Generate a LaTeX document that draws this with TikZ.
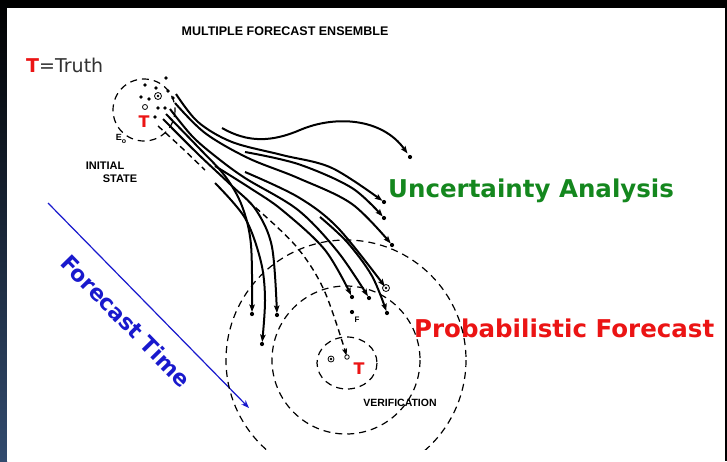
\documentclass[tikz,border=0pt]{standalone}
\usepackage{fontspec}
\setmainfont{DejaVu Sans}
\newfontfamily\lab{Liberation Sans}
\usetikzlibrary{arrows.meta}
\definecolor{tred}{RGB}{235,20,20}
\definecolor{tgreen}{RGB}{20,135,30}
\definecolor{tblue}{RGB}{25,25,205}
\definecolor{tgray}{RGB}{50,50,50}
\definecolor{edge}{RGB}{50,75,110}
\begin{document}
\begin{tikzpicture}[x=1pt,y=-1pt,
 traj/.style={line width=2pt, -{Stealth[length=7.5pt,width=5.5pt,inset=1.5pt]}, shorten >=2pt},
 dtraj/.style={line width=1.4pt, dash pattern=on 6pt off 4pt, -{Stealth[length=7pt,width=5pt,inset=1.5pt]}, shorten >=1.5pt},
 dline/.style={line width=1.4pt, dash pattern=on 6pt off 4pt},
 dsh/.style={line width=1.2pt, dash pattern=on 7pt off 5pt},
 dot/.style={circle, fill=black, inner sep=0pt, minimum size=4.2pt},
 odot/.style={circle, draw=black, line width=0.8pt, inner sep=0pt, minimum size=5pt},
 cdot/.style={circle, draw=black, line width=0.8pt, fill=white, inner sep=0pt, minimum size=7pt, path picture={\fill[black] (path picture bounding box.center) circle (1.3pt);}},
 lbl/.style={font=\lab\bfseries\fontsize{11}{12}\selectfont, inner sep=0pt},
 big/.style={inner sep=0pt, anchor=base west}]
\useasboundingbox (0,0) rectangle (727,461);
% frame
\fill[black] (0,0) rectangle (727,461);
\shade[top color=black, bottom color=edge] (0,0) rectangle (7,461);
\fill[white] (7,8) rectangle (725,461);

% texts
\node[font=\lab\bfseries\fontsize{12.5}{14}\selectfont, inner sep=0pt] (title) at (285,31) {MULTIPLE FORECAST ENSEMBLE};
\node[big, font=\fontsize{19}{22}\selectfont, text=tgray] (truth) at (26,72) {\textcolor{tred}{\textbf{T}}=Truth};
\node[big, font=\bfseries\fontsize{24.5}{28}\selectfont, text=tgreen] (ua) at (388,197) {Uncertainty Analysis};
\node[big, font=\bfseries\fontsize{24.5}{28}\selectfont, text=tred] (pf) at (414,337) {Probabilistic Forecast};
\node[rotate=-45.6, font=\bfseries\fontsize{22}{26}\selectfont, text=tblue, inner sep=0pt] (ft) at (126,321) {Forecast Time};
\node[lbl] (ini) at (105,166) {INITIAL};
\node[lbl] (sta) at (120,179) {STATE};
\node[lbl, font=\lab\bfseries\fontsize{10.5}{12}\selectfont] (ver) at (400,403) {VERIFICATION};
\node[font=\lab\bfseries\fontsize{9}{10}\selectfont, inner sep=0pt] (e0) at (121,139) {E\raisebox{-2.5pt}{\fontsize{7}{8}\selectfont o}};

% forecast time arrow
\coordinate (fa) at (48,203);
\coordinate (fb) at (249,408);
\draw[tblue, line width=1.2pt, -{Stealth[length=8pt,width=6pt]}] (fa) -- (fb);

% initial state circle
\coordinate (ic) at (144,110);
\draw[dsh] (ic) circle [radius=31];
\node[font=\bfseries\fontsize{16}{18}\selectfont, text=tred, inner sep=0pt] (t0) at (144,122) {T};
\node[odot] (o0) at (145,107) {};
\node[cdot] (c0) at (158,96) {};
\foreach \p in {(166,78),(145,85),(156,88),(141,97),(149,99),(168,91),(173,98),(158,108),(155,117),(165,108)} \fill \p circle (1.9pt);

% verification circles
\coordinate (vc) at (346,360);
\draw[dsh] (347,363) ellipse [x radius=30, y radius=26];
\draw[dsh] (vc) circle [radius=74];
\begin{scope}
\clip (0,0) rectangle (727,449);
\draw[dsh] (vc) circle [radius=120];
\end{scope}
\node[font=\bfseries\fontsize{16}{18}\selectfont, text=tred, inner sep=0pt] (t1) at (359,369) {T};
\node[cdot, minimum size=6pt] (at) at (331,359) {};
\node[odot, minimum size=4.5pt] (v1) at (347,357) {};

% endpoint dots
\node[dot] (d1) at (410,157) {};
\node[dot] (d2) at (384,202) {};
\node[dot] (d3) at (384,218) {};
\node[dot] (d4) at (392,245) {};
\node[cdot] (d5) at (386,288) {};
\node[dot] (d6) at (387,313) {};
\node[dot] (d7) at (369,298) {};
\node[dot] (d8) at (352,297) {};
\node[dot] (d9) at (352,312) {};
\node[font=\lab\bfseries\fontsize{8}{9}\selectfont, inner sep=0pt] (f) at (357,320) {F};
\node[dot] (d10) at (252,314) {};
\node[dot] (d11) at (277,315) {};
\node[dot] (d12) at (262,344) {};

% start coordinates
\coordinate (s2) at (176,94);
\coordinate (s4) at (175,103);
\coordinate (s7) at (170,109);
\coordinate (s10) at (166,114);
\coordinate (s11) at (163,119);
\coordinate (sd) at (158,126);
\coordinate (sd2) at (248,201);
\coordinate (ed) at (205,170);
\coordinate (g1) at (222,128);
\coordinate (g3) at (245,152);
\coordinate (g5) at (245,172);
\coordinate (g6) at (320,217);
\coordinate (g8) at (215,166);
\coordinate (g12) at (215,183);

% trajectories
\draw[traj] (g1) .. controls (248,143) and (272,142) .. (300,130) .. controls (335,115) and (382,118) .. (d1);
\draw[traj] plot[smooth, tension=0.55] coordinates {(s2) (198,122) (232,142) (282,155) (332,168) (d2)};
\draw[traj] plot[smooth, tension=0.55] coordinates {(g3) (298,164) (352,188) (d3)};
\draw[traj] plot[smooth, tension=0.55] coordinates {(s4) (205,133) (248,158) (298,178) (352,204) (d4)};
\draw[traj] plot[smooth, tension=0.55] coordinates {(g5) (298,197) (338,228) (d5)};
\draw[traj] plot[smooth, tension=0.55] coordinates {(g6) (347,242) (372,276) (d6)};
\draw[traj] plot[smooth, tension=0.55] coordinates {(s7) (192,136) (215,156) (245,178) (298,210) (338,252) (d7)};
\draw[traj] plot[smooth, tension=0.55] coordinates {(g8) (250,188) (282,210) (325,250) (d8)};
\draw[traj] plot[smooth, tension=0.55] coordinates {(s10) (198,147) (225,176) (242,206) (251,245) (d10)};
\draw[traj] plot[smooth, tension=0.55] coordinates {(s11) (198,154) (232,186) (256,210) (272,247) (d11)};
\draw[traj] plot[smooth, tension=0.55] coordinates {(g12) (245,218) (261,262) (265,300) (d12)};
\draw[dline] plot[smooth, tension=0.55] coordinates {(sd) (182,148) (ed)};
\draw[dtraj] plot[smooth, tension=0.55] coordinates {(sd2) (295,245) (324,290) (v1)};
\end{tikzpicture}
\end{document}
